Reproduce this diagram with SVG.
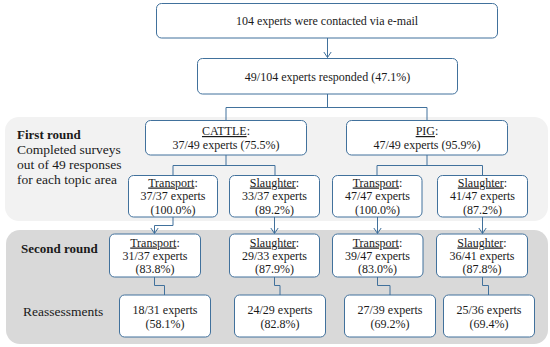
<svg xmlns="http://www.w3.org/2000/svg" width="550" height="347" viewBox="0 0 550 347">
<defs>
<style>
.box{fill:#ffffff;stroke:#41719c;stroke-width:1}
.conn{fill:none;stroke:#41719c;stroke-width:1}
.t{font-family:"Liberation Serif","Times New Roman",serif;font-size:12px;fill:#1a1a1a;text-anchor:middle}
.l{font-family:"Liberation Serif","Times New Roman",serif;font-size:13.5px;fill:#1a1a1a}
.b{font-weight:bold;font-size:13px}
.u{text-decoration:underline}
</style>
<marker id="arr" markerUnits="userSpaceOnUse" markerWidth="8" markerHeight="10" refX="6" refY="4" orient="auto" viewBox="0 0 8 8">
<path d="M0,0 L6,4 L0,8" fill="none" stroke="#41719c" stroke-width="1"/>
</marker>
</defs>
<rect x="0" y="0" width="550" height="347" fill="#ffffff"/>
<g id="regions">
<rect x="5" y="117" width="543" height="104" rx="14" fill="#f2f2f2"/>
<rect x="6" y="230" width="542" height="114" rx="14" fill="#d9d9d9"/>
</g>
<g id="labels">
<text class="l b" x="17" y="139">First round</text>
<text class="l" x="17" y="154">Completed surveys</text>
<text class="l" x="17" y="169">out of 49 responses</text>
<text class="l" x="17" y="183.5">for each topic area</text>
<text class="l b" x="21" y="253">Second round</text>
<text class="l" x="23" y="316">Reassessments</text>
</g>
<g id="connectors">
<line class="conn" x1="327.5" y1="38" x2="327.5" y2="57.5" marker-end="url(#arr)"/>
<path class="conn" d="M327.5,94 V107.5 M226,120 V107.5 H427 V120"/>
<path class="conn" d="M226,155 V165.5 M173,175 V165.5 H275 V175"/>
<path class="conn" d="M427,155 V165.5 M377,175 V165.5 H482.5 V175"/>
<path class="conn" d="M173,217 V225.5 H154.5 V233.5" marker-end="url(#arr)"/>
<line class="conn" x1="274.5" y1="217" x2="274.5" y2="233.5" marker-end="url(#arr)"/>
<line class="conn" x1="377.5" y1="217" x2="377.5" y2="233.5" marker-end="url(#arr)"/>
<line class="conn" x1="482.5" y1="217" x2="482.5" y2="233.5" marker-end="url(#arr)"/>
<path class="conn" d="M154.5,277 V285.5 H164.5 V295"/>
<path class="conn" d="M274.5,277 V285.5 H280 V295"/>
<path class="conn" d="M377.5,277 V285.5 H390 V295"/>
<path class="conn" d="M482.5,277 V285.5 H488.5 V295"/>
</g>
<g id="n-contacted">
<rect class="box" x="156.5" y="3.5" width="341" height="34.5" rx="5"/>
<text class="t" x="327" y="25">104 experts were contacted via e-mail</text>
</g>
<g id="n-responded">
<rect class="box" x="197.5" y="58.5" width="260" height="35.5" rx="5"/>
<text class="t" x="327.5" y="80.5">49/104 experts responded (47.1%)</text>
</g>
<g id="n-cattle">
<rect class="box" x="145.5" y="120.5" width="161" height="34.5" rx="5"/>
<text class="t" x="226" y="135"><tspan class="u">CATTLE</tspan>:</text>
<text class="t" x="226" y="149">37/49 experts (75.5%)</text>
</g>
<g id="n-pig">
<rect class="box" x="346.5" y="120.5" width="161" height="34.5" rx="5"/>
<text class="t" x="427" y="135"><tspan class="u">PIG</tspan>:</text>
<text class="t" x="427" y="149">47/49 experts (95.9%)</text>
</g>
<g id="n-c-transport-1">
<rect class="box" x="128.5" y="175.5" width="89" height="41.5" rx="5"/>
<text class="t" x="173" y="186.5"><tspan class="u">Transport</tspan>:</text>
<text class="t" x="173" y="200">37/37 experts</text>
<text class="t" x="173" y="213.5">(100.0%)</text>
</g>
<g id="n-c-slaughter-1">
<rect class="box" x="229.5" y="175.5" width="90" height="41.5" rx="5"/>
<text class="t" x="274.5" y="186.5"><tspan class="u">Slaughter</tspan>:</text>
<text class="t" x="274.5" y="200">33/37 experts</text>
<text class="t" x="274.5" y="213.5">(89.2%)</text>
</g>
<g id="n-p-transport-1">
<rect class="box" x="332.5" y="175.5" width="89.5" height="41.5" rx="5"/>
<text class="t" x="377.5" y="186.5"><tspan class="u">Transport</tspan>:</text>
<text class="t" x="377.5" y="200">47/47 experts</text>
<text class="t" x="377.5" y="213.5">(100.0%)</text>
</g>
<g id="n-p-slaughter-1">
<rect class="box" x="437.5" y="175.5" width="90" height="41.5" rx="5"/>
<text class="t" x="482.5" y="186.5"><tspan class="u">Slaughter</tspan>:</text>
<text class="t" x="482.5" y="200">41/47 experts</text>
<text class="t" x="482.5" y="213.5">(87.2%)</text>
</g>
<g id="n-c-transport-2">
<rect class="box" x="109.5" y="234" width="91" height="43" rx="5"/>
<text class="t" x="155" y="246.5"><tspan class="u">Transport</tspan>:</text>
<text class="t" x="155" y="260">31/37 experts</text>
<text class="t" x="155" y="273">(83.8%)</text>
</g>
<g id="n-c-slaughter-2">
<rect class="box" x="229.5" y="234" width="90" height="43" rx="5"/>
<text class="t" x="274.5" y="246.5"><tspan class="u">Slaughter</tspan>:</text>
<text class="t" x="274.5" y="260">29/33 experts</text>
<text class="t" x="274.5" y="273">(87.9%)</text>
</g>
<g id="n-p-transport-2">
<rect class="box" x="332.5" y="234" width="90.5" height="43" rx="5"/>
<text class="t" x="377.5" y="246.5"><tspan class="u">Transport</tspan>:</text>
<text class="t" x="377.5" y="260">39/47 experts</text>
<text class="t" x="377.5" y="273">(83.0%)</text>
</g>
<g id="n-p-slaughter-2">
<rect class="box" x="436.5" y="234" width="91" height="43" rx="5"/>
<text class="t" x="482" y="246.5"><tspan class="u">Slaughter</tspan>:</text>
<text class="t" x="482" y="260">36/41 experts</text>
<text class="t" x="482" y="273">(87.8%)</text>
</g>
<g id="n-c-transport-r">
<rect class="box" x="119.5" y="295" width="91" height="42" rx="5"/>
<text class="t" x="165" y="314">18/31 experts</text>
<text class="t" x="165" y="327.5">(58.1%)</text>
</g>
<g id="n-c-slaughter-r">
<rect class="box" x="234.5" y="295" width="91" height="42" rx="5"/>
<text class="t" x="280" y="314">24/29 experts</text>
<text class="t" x="280" y="327.5">(82.8%)</text>
</g>
<g id="n-p-transport-r">
<rect class="box" x="344.5" y="295" width="91" height="42" rx="5"/>
<text class="t" x="390" y="314">27/39 experts</text>
<text class="t" x="390" y="327.5">(69.2%)</text>
</g>
<g id="n-p-slaughter-r">
<rect class="box" x="443.5" y="295" width="91" height="42" rx="5"/>
<text class="t" x="489" y="314">25/36 experts</text>
<text class="t" x="489" y="327.5">(69.4%)</text>
</g>
</svg>
